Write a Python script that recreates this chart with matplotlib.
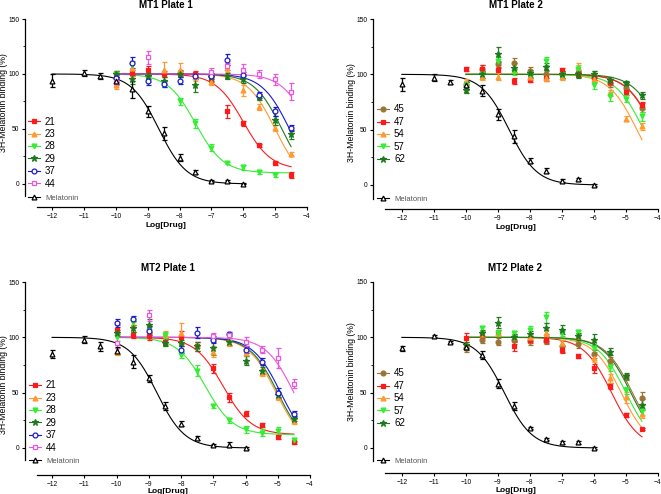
import numpy as np
import matplotlib
matplotlib.use('Agg')
import matplotlib.pyplot as plt

plt.rcParams['font.family'] = ['Liberation Sans', 'DejaVu Sans']

W, H = 661, 494
nan = np.nan

# ---------------- data ----------------
x_cmp = [-10, -9.5, -9, -8.5, -8, -7.5, -7, -6.5, -6, -5.5, -5, -4.5]
x_mel = [-12, -11, -10.5, -10, -9.5, -9, -8.5, -8, -7.5, -7, -6.5, -6]

# MT1 Plate 1
mt1p1_mel = [94, 101, 98, 94, 86, 66, 46, 24, 11, 3, 3, 0]
mt1p1_mel_err = [6, 3, 3, 3, 8, 5, 6, 3, 2, 1, 1, 0.5]
mt1p1_21 = [100, 101, 104, 100, 101, 100, 95, 66, 55, 35, 19, 8]
mt1p1_21_err = [3, 3, 3, 3, 3, 3, 2, 6, 2, 1, 2, 3]
mt1p1_23 = [90, 105, 98, 104, 104, 97, 93, 105, 85, 70, 51, 27]
mt1p1_23_err = [4, 7, 3, 7, 6, 3, 3, 3, 5, 3, 3, 2]
mt1p1_28 = [100, 108, 96, 91, 75, 55, 33, 19, 15, 11, 8, nan]
mt1p1_28_err = [3, 4, 3, 3, 3, 4, 3, 1, 2, 2, 2, 0]
mt1p1_29 = [100, 95, 98, 94, 100, 90, 97, 98, 95, 79, 58, 45]
mt1p1_29_err = [3, 4, 3, 3, 3, 6, 3, 3, 3, 3, 4, 4]
mt1p1_37 = [96, 110, 94, 91, 94, 98, 98, 113, 99, 81, 66, 51]
mt1p1_37_err = [3, 5, 4, 3, 3, 3, 3, 5, 3, 3, 4, 3]
mt1p1_44 = [93, nan, 115, nan, nan, nan, 102, 107, 104, 100, 95, 84]
mt1p1_44_err = [3, 0, 6, 0, 0, 0, 3, 3, 5, 4, 5, 8]

# MT1 Plate 2
mt1p2_mel = [91, 97, 93, 90, 85, 64, 44, 22, 13, 4, 5, 0]
mt1p2_mel_err = [6, 3, 2, 3, 5, 5, 6, 2, 2, 1, 1, 0.5]
mt1p2_45 = [90, 105, 109, 110, 103, 100, 100, 101, 98, 92, 88, 70]
mt1p2_45_err = [4, 3, 3, 5, 4, 3, 3, 3, 5, 3, 3, 4]
mt1p2_47 = [105, 105, 104, 94, 95, 97, 104, 100, 98, 93, 84, 72]
mt1p2_47_err = [2, 3, 3, 3, 2, 3, 2, 2, 3, 3, 3, 3]
mt1p2_54 = [93, 98, 98, 104, 98, 97, 98, 107, 96, 83, 60, 53]
mt1p2_54_err = [3, 3, 3, 3, 3, 3, 3, 3, 3, 3, 2, 3]
mt1p2_57 = [90, 100, 112, 102, 100, 112, 99, 105, 90, 80, 78, 62]
mt1p2_57_err = [3, 3, 4, 3, 3, 4, 3, 3, 3, 4, 3, 4]
mt1p2_62 = [86, 100, 118, 106, 101, 107, 100, 100, 100, 95, 92, 81]
mt1p2_62_err = [3, 3, 7, 4, 3, 3, 3, 3, 3, 3, 2, 3]

# MT2 Plate 1
mt2p1_mel = [85, 98, 92, 88, 78, 63, 38, 22, 9, 3, 3, 0]
mt2p1_mel_err = [4, 3, 4, 3, 6, 3, 4, 2, 2, 1, 2, 0.5]
mt2p1_21 = [107, 102, 101, 96, 100, 92, 72, 46, 31, 21, 10, 5]
mt2p1_21_err = [4, 3, 3, 3, 6, 4, 4, 4, 2, 2, 2, 1]
mt2p1_23 = [87, 111, 107, 103, 104, 93, 87, 95, 86, 68, 46, 24]
mt2p1_23_err = [3, 3, 3, 3, 9, 3, 5, 3, 3, 3, 3, 2]
mt2p1_28 = [100, 114, 106, 102, 84, 70, 38, 25, 17, 14, 15, 7]
mt2p1_28_err = [3, 3, 3, 3, 3, 5, 2, 2, 3, 3, 4, 2]
mt2p1_29 = [104, 108, 111, 95, 95, 92, 90, 96, 79, 70, 48, 26]
mt2p1_29_err = [3, 3, 6, 3, 3, 4, 6, 3, 4, 3, 3, 2]
mt2p1_37 = [113, 117, 106, nan, 89, 104, 98, 103, 89, 78, 50, 31]
mt2p1_37_err = [4, 2, 4, 0, 3, 5, 3, 2, 3, 3, 4, 2]
mt2p1_44 = [95, nan, 120, nan, nan, nan, 101, 102, 96, 89, 81, 58]
mt2p1_44_err = [5, 0, 5, 0, 0, 0, 3, 3, 4, 3, 9, 4]

# MT2 Plate 2
mt2p2_mel = [90, 101, 96, 91, 84, 58, 38, 18, 8, 5, 5, 0]
mt2p2_mel_err = [2, 1, 1, 2, 4, 4, 4, 1, 1, 1, 1, 0.5]
mt2p2_45 = [90, 98, 96, 98, 97, 97, 92, 94, 85, 79, 64, 45]
mt2p2_45_err = [3, 3, 3, 4, 4, 3, 5, 4, 4, 3, 3, 6]
mt2p2_47 = [99, 102, 104, 92, 98, 98, 89, 83, 72, 56, 30, 17]
mt2p2_47_err = [5, 3, 3, 4, 3, 3, 3, 2, 4, 3, 2, 1]
mt2p2_54 = [93, 103, 104, 100, 100, 104, 95, 101, 81, 63, 46, 31]
mt2p2_54_err = [3, 3, 3, 3, 3, 3, 3, 3, 3, 4, 5, 4]
mt2p2_57 = [nan, 108, 104, 104, 107, 118, 104, 105, 90, 73, 52, 33]
mt2p2_57_err = [0, 2, 3, 2, 3, 5, 3, 2, 3, 3, 3, 3]
mt2p2_62 = [93, 104, 113, 100, 103, 108, 107, 101, 98, 87, 65, 39]
mt2p2_62_err = [3, 3, 5, 3, 3, 5, 4, 3, 5, 3, 3, 5]

# Fitted sigmoid parameters: (top, bottom, logIC50)
fit_mt1p1 = {'21': (100, 13, -6.0), '23': (100, 0, -5.0), '28': (100, 10, -7.5),
             '29': (100, 0, -4.79), '37': (100, 0, -4.55), '44': (100, 0, -3.9),
             'Melatonin': (100, 0, -8.65)}
fit_mt1p2 = {'45': (100, 0, -4.11), '47': (100, 0, -4.13), '54': (100, 0, -4.66),
             '57': (100, 0, -4.45), '62': (100, 0, -3.9), 'Melatonin': (100, 0, -8.65)}
fit_mt2p1 = {'21': (100, 12, -6.7), '23': (100, 0, -5.05), '28': (100, 12, -7.25),
             '29': (100, 0, -5.0), '37': (100, 0, -4.91), '44': (100, 0, -4.5),
             'Melatonin': (100, 0, -8.75)}
fit_mt2p2 = {'45': (100, 0, -4.8), '47': (100, 0, -5.45), '54': (100, 0, -5.15),
             '57': (100, 0, -5.0), '62': (100, 0, -4.85), 'Melatonin': (100, 0, -8.8)}

# ---------------- styles ----------------
style = {
    '21': dict(color='#ff1a1a', marker='s', mfc='#ff1a1a'),
    '23': dict(color='#ff9a33', marker='^', mfc='#ff9a33'),
    '28': dict(color='#33ee33', marker='v', mfc='#33ee33'),
    '29': dict(color='#1f7a1f', marker='*', mfc='#1f7a1f'),
    '37': dict(color='#1a1acc', marker='o', mfc='white'),
    '44': dict(color='#ee55dd', marker='s', mfc='white'),
    '45': dict(color='#9a7434', marker='o', mfc='#9a7434'),
    '47': dict(color='#ff1a1a', marker='s', mfc='#ff1a1a'),
    '54': dict(color='#ff9a33', marker='^', mfc='#ff9a33'),
    '57': dict(color='#33ee33', marker='v', mfc='#33ee33'),
    '62': dict(color='#1f7a1f', marker='*', mfc='#1f7a1f'),
    'Melatonin': dict(color='black', marker='^', mfc='white'),
}


def sigmoid(x, top, bottom, c):
    return bottom + (top - bottom) / (1 + 10 ** (x - c))


fig = plt.figure(figsize=(W / 100, H / 100), dpi=100)


def panel(rect, xlim, ylim, xb, yb, title, series, fits, leg1_xy, leg2_xy, ylab_xy,
          xlabpad):
    l, r, t, b = rect
    ax = fig.add_axes([l / W, 1 - b / H, (r - l) / W, (b - t) / H])
    handles = []
    for name, xs, ys, es in series:
        st = style[name]
        xs = np.array(xs, float)
        ys = np.array(ys, float)
        es = np.array(es, float)
        ok = ~np.isnan(ys)
        ms = 4.6 if st['marker'] == '*' else 3.5
        ax.errorbar(xs[ok], ys[ok], yerr=es[ok], fmt='none', ecolor=st['color'],
                    elinewidth=0.9, capsize=1.8, capthick=0.9, zorder=3)
        ax.plot(xs[ok], ys[ok], ls='none', marker=st['marker'], color=st['color'],
                mfc=st['mfc'], mec=st['color'], mew=0.9, ms=ms, zorder=4)
        top, bot, c = fits[name]
        xx = np.linspace(xs.min(), xs.max(), 300)
        ax.plot(xx, sigmoid(xx, top, bot, c), color=st['color'], lw=0.8, zorder=2)
        h, = ax.plot([], [], color=st['color'], lw=0.8, marker=st['marker'],
                     mfc=st['mfc'], mec=st['color'], mew=0.9, ms=ms)
        handles.append((h, name))
    ax.set_xlim(*xlim)
    ax.set_ylim(*ylim)
    for s in ['top', 'right']:
        ax.spines[s].set_visible(False)
    ax.spines['bottom'].set_bounds(*xb)
    ax.spines['left'].set_bounds(*yb)
    for s in ['bottom', 'left']:
        ax.spines[s].set_linewidth(0.9)
    ax.set_xticks(np.arange(-12, -3, 1))
    ax.set_yticks([0, 50, 100, 150])
    ax.set_yticks([25, 75, 125], minor=True)
    ax.tick_params(axis='both', which='major', length=2.5, width=0.8, labelsize=4.8, pad=1.5)
    ax.tick_params(axis='y', which='minor', length=1.5, width=0.6)
    ax.set_title(title, fontsize=7, fontweight='bold', pad=8)
    ax.set_xlabel('Log[Drug]', fontsize=6, fontweight='bold', labelpad=xlabpad)
    ax.set_ylabel('3H-Melatonin binding (%)', fontsize=6.3)
    ax.yaxis.set_label_coords((ylab_xy[0] - l) / (r - l), (b - ylab_xy[1]) / (b - t))
    # legends
    cmp_h = [h for h, n in handles if n != 'Melatonin']
    cmp_n = [n for h, n in handles if n != 'Melatonin']
    mel_h = [h for h, n in handles if n == 'Melatonin']
    leg1 = ax.legend(cmp_h, cmp_n, loc='upper left', frameon=False, fontsize=7,
                     bbox_to_anchor=(leg1_xy[0] / W, 1 - (leg1_xy[1] - 5.5) / H),
                     bbox_transform=fig.transFigure, borderpad=0, borderaxespad=0,
                     labelspacing=0.25, handlelength=1.25, handletextpad=0.5,
                     numpoints=1)
    ax.add_artist(leg1)
    leg2 = ax.legend(mel_h, ['Melatonin'], loc='upper left', frameon=False,
                     fontsize=5.5,
                     bbox_to_anchor=(leg2_xy[0] / W, 1 - (leg2_xy[1] - 4.5) / H),
                     bbox_transform=fig.transFigure, borderpad=0, borderaxespad=0,
                     handlelength=1.6, handletextpad=0.65, numpoints=1)
    for tx in leg2.get_texts():
        tx.set_color('#555555')
    return ax


panel((25, 307, 19, 207), (-12.85, -4), (-21, 150), (-12.47, -4), (-11, 150),
      'MT1 Plate 1',
      [('21', x_cmp, mt1p1_21, mt1p1_21_err), ('23', x_cmp, mt1p1_23, mt1p1_23_err),
       ('28', x_cmp, mt1p1_28, mt1p1_28_err), ('29', x_cmp, mt1p1_29, mt1p1_29_err),
       ('37', x_cmp, mt1p1_37, mt1p1_37_err), ('44', x_cmp, mt1p1_44, mt1p1_44_err),
       ('Melatonin', x_mel, mt1p1_mel, mt1p1_mel_err)],
      fit_mt1p1, (28, 122), (28, 199), (8.5, 103), 2)

panel((373, 658, 19, 209), (-12.9, -4), (-21.7, 150), (-12.53, -4), (-13, 150),
      'MT1 Plate 2',
      [('45', x_cmp, mt1p2_45, mt1p2_45_err), ('47', x_cmp, mt1p2_47, mt1p2_47_err),
       ('54', x_cmp, mt1p2_54, mt1p2_54_err), ('57', x_cmp, mt1p2_57, mt1p2_57_err),
       ('62', x_cmp, mt1p2_62, mt1p2_62_err),
       ('Melatonin', x_mel, mt1p2_mel, mt1p2_mel_err)],
      fit_mt1p2, (377, 110), (377, 200), (356, 113), 2)

panel((25, 310, 282, 475), (-12.84, -4), (-24.4, 150), (-12.47, -4), (-11, 150),
      'MT2 Plate 1',
      [('21', x_cmp, mt2p1_21, mt2p1_21_err), ('23', x_cmp, mt2p1_23, mt2p1_23_err),
       ('28', x_cmp, mt2p1_28, mt2p1_28_err), ('29', x_cmp, mt2p1_29, mt2p1_29_err),
       ('37', x_cmp, mt2p1_37, mt2p1_37_err), ('44', x_cmp, mt2p1_44, mt2p1_44_err),
       ('Melatonin', x_mel, mt2p1_mel, mt2p1_mel_err)],
      fit_mt2p1, (29, 386), (29, 462), (8.5, 385), 0)

panel((373, 658, 282, 473), (-12.9, -4), (-22.6, 150), (-12.53, -4), (-12, 150),
      'MT2 Plate 2',
      [('45', x_cmp, mt2p2_45, mt2p2_45_err), ('47', x_cmp, mt2p2_47, mt2p2_47_err),
       ('54', x_cmp, mt2p2_54, mt2p2_54_err), ('57', x_cmp, mt2p2_57, mt2p2_57_err),
       ('62', x_cmp, mt2p2_62, mt2p2_62_err),
       ('Melatonin', x_mel, mt2p2_mel, mt2p2_mel_err)],
      fit_mt2p2, (377, 374), (377, 462), (356, 372), 1)

fig.savefig('out.png', dpi=100)
